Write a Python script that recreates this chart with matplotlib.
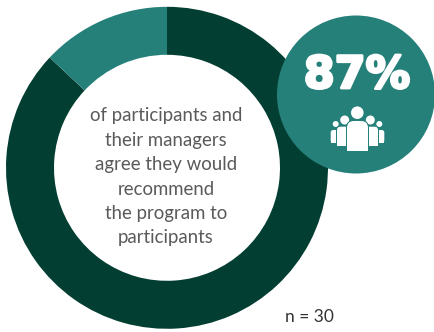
import matplotlib
matplotlib.use("Agg")
import matplotlib.pyplot as plt
import matplotlib.patheffects as pe
from matplotlib.patches import Circle, FancyBboxPatch, Rectangle

share = [87, 13]
share_label = "87%"
caption_lines = ["of participants and", "their managers", "agree they would", "recommend", "the program to", "participants"]
sample_label = "n = 30"

dark = "#033e33"
teal = "#26807a"
grey = "#5a5a5a"
H = 332


def rounded(ax, left, right, top, bottom, rad, color):
    # box with round upper corners and a square foot
    ax.add_patch(FancyBboxPatch((left + rad, H - bottom + rad), right - left - 2 * rad, bottom - top - 2 * rad,
                                boxstyle="round,pad=%f,rounding_size=%f" % (rad, rad), fc=color, ec="none"))
    ax.add_patch(Rectangle((left, H - bottom), right - left, rad, fc=color, ec="none"))


def person(ax, head_x, head_y, head_r, left, right, top, bottom, rad):
    # one figure of the group icon, y values counted from the top
    rounded(ax, left - 1, right + 1, top - 1, bottom + 0.5, rad + 1, teal)
    rounded(ax, left, right, top, bottom, rad, "white")
    ax.add_patch(Circle((head_x, H - head_y), head_r, fc="white", ec="none"))


fig = plt.figure(figsize=(4.34, 3.32), dpi=100)
ax = fig.add_axes([0, 0, 1, 1])

ax.pie(share, colors=[dark, teal], startangle=90, counterclock=False, center=(167, H - 167.8), radius=161,
       frame=True, wedgeprops=dict(width=48, linewidth=0))

ax.add_patch(Circle((356, H - 94.5), 79, fc=teal, ec="none", zorder=3))
ax.set_xlim(0, 434)
ax.set_ylim(0, H)
ax.set_aspect("equal")
ax.axis("off")

ax.text(357, H - 75.5, share_label, ha="center", va="center", color="white", fontsize=32, fontweight="bold",
        family="DejaVu Sans", zorder=5, path_effects=[pe.withStroke(linewidth=2, foreground="white")])

for i, line in enumerate(caption_lines):
    ax.text(166, H - (116 + i * 24.4), line, ha="center", va="center", color=grey, fontsize=13.4,
            family="Lato")

ax.text(309, H - 317, sample_label, ha="center", va="center", color="#333333", fontsize=12.5, family="Lato")

# group icon, outer figures first so the inner ones overlap them
icon = fig.add_axes([0, 0, 1, 1], facecolor="none")
icon.set_xlim(0, 434)
icon.set_ylim(0, H)
icon.axis("off")
person(icon, 335.7, 124, 3, 330.7, 340, 130, 142.7, 2.5)
person(icon, 379.3, 124, 3, 374, 384.3, 130, 142.7, 2.5)
person(icon, 344.7, 120, 4.5, 337, 352, 126.7, 146, 3.5)
person(icon, 370.3, 120, 4.5, 363, 378, 126.7, 146, 3.5)
person(icon, 357.3, 112.7, 6.3, 347, 368, 121, 150.7, 7)

fig.savefig("out.png", dpi=100)
